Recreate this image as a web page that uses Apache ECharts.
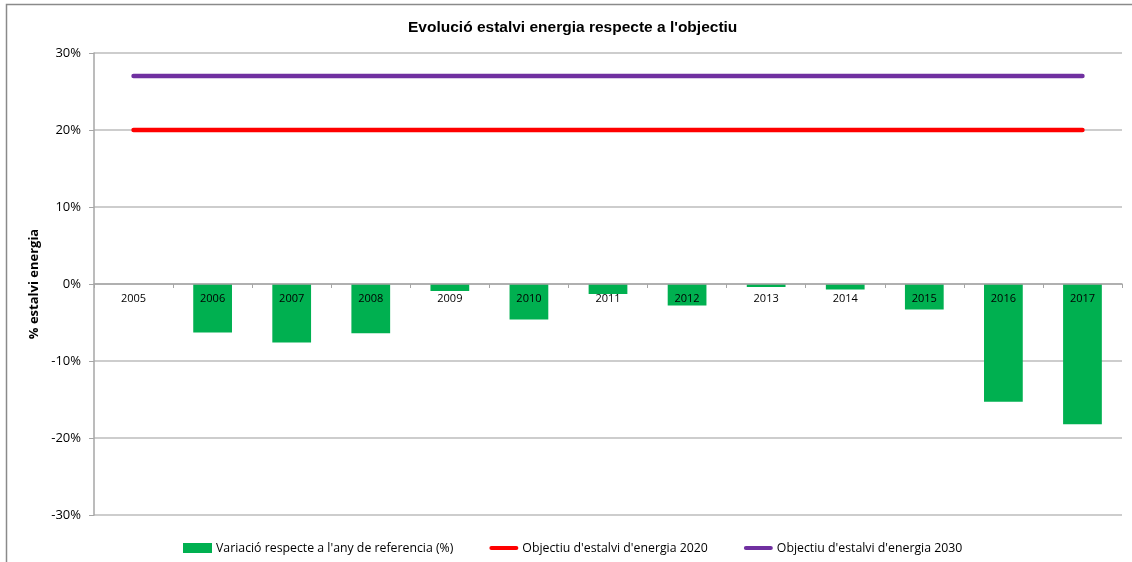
<!DOCTYPE html>
<html>
<head>
<meta charset="utf-8">
<script src="https://cdn.jsdelivr.net/npm/echarts@6/dist/echarts.min.js"></script>
<style>
  html, body { margin: 0; padding: 0; background: #fff; }
  #chart { width: 1132px; height: 562px; }
</style>
</head>
<body>
<div id="chart"></div>
<script>
  // anys
  var years = ['2005', '2006', '2007', '2008', '2009', '2010', '2011', '2012', '2013', '2014', '2015', '2016', '2017']
  // variació respecte a 2005 (%)
  var variacio = [0, -6.3, -7.6, -6.4, -0.9, -4.6, -1.3, -2.8, -0.4, -0.7, -3.3, -15.3, -18.2]
  var objectiu2020 = [20, 20, 20, 20, 20, 20, 20, 20, 20, 20, 20, 20, 20]
  var objectiu2030 = [27, 27, 27, 27, 27, 27, 27, 27, 27, 27, 27, 27, 27]
  var yTicks = [-30, -20, -10, 0, 10, 20, 30]

  var lineIcon = 'path://M2.5,0 H32.5 A2.5,2.5 0 0 1 32.5,5 H2.5 A2.5,2.5 0 0 1 2.5,0 Z'
  var font = 'Open Sans'

  var chart = echarts.init(document.getElementById('chart'))
  chart.setOption({
    backgroundColor: '#fff',
    animation: false,
    graphic: [{
      type: 'rect',
      shape: { x: 6.5, y: 4.5, width: 1140, height: 600 },
      style: { fill: 'none', stroke: '#8a8a8a', lineWidth: 1.5 },
      silent: true
    }],
    title: {
      text: "Evolució estalvi energia respecte a l'objectiu",
      left: 403,
      top: 15,
      textStyle: {
        fontFamily: 'Liberation Sans',
        fontSize: 15.5,
        fontWeight: 'bold',
        color: '#000'
      }
    },
    legend: {
      left: 178,
      top: 537,
      itemWidth: 29,
      itemHeight: 10,
      itemGap: 36,
      textStyle: { fontFamily: font, fontSize: 12.3, color: '#000', padding: [0, 0, 0, -1] },
      data: [
        { name: "Variació respecte a l'any de referencia (%)", icon: 'rect' },
        { name: "Objectiu d'estalvi d'energia 2020", icon: lineIcon },
        { name: "Objectiu d'estalvi d'energia 2030", icon: lineIcon }
      ]
    },
    grid: {
      left: 94,
      right: 10,
      top: 53,
      bottom: 47
    },
    xAxis: {
      type: 'category',
      data: years,
      boundaryGap: true,
      // l'eix es dibuixa a l'alçada del 0%
      offset: -231,
      axisLine: { onZero: false, lineStyle: { color: '#a6a6a6', width: 1.5 } },
      axisTick: { show: true, length: 4, lineStyle: { color: '#a6a6a6' } },
      axisLabel: { fontFamily: font, fontSize: 11, color: '#000', margin: 9 },
      z: 5
    },
    yAxis: {
      type: 'value',
      min: yTicks[0],
      max: yTicks[yTicks.length - 1],
      interval: 10,
      name: '% estalvi energia',
      nameLocation: 'middle',
      nameGap: 47,
      nameTextStyle: { fontFamily: font, fontSize: 13, fontWeight: 'bold', color: '#000' },
      axisLine: { show: true, lineStyle: { color: '#a6a6a6', width: 1.5 } },
      axisTick: { show: true, length: 5, lineStyle: { color: '#a6a6a6' } },
      axisLabel: { fontFamily: font, fontSize: 13, color: '#000', margin: 13, formatter: '{value}%' },
      splitLine: { lineStyle: { color: '#bdbdbd', width: 1.5 } }
    },
    series: [
      {
        name: "Variació respecte a l'any de referencia (%)",
        type: 'bar',
        data: variacio,
        barWidth: '49%',
        itemStyle: { color: '#00b050' },
        z: 2
      },
      {
        name: "Objectiu d'estalvi d'energia 2020",
        type: 'line',
        data: objectiu2020,
        showSymbol: false,
        symbol: 'none',
        itemStyle: { color: '#ff0000' },
        lineStyle: { color: '#ff0000', width: 4.5, cap: 'round' },
        z: 3
      },
      {
        name: "Objectiu d'estalvi d'energia 2030",
        type: 'line',
        data: objectiu2030,
        showSymbol: false,
        symbol: 'none',
        itemStyle: { color: '#7030a0' },
        lineStyle: { color: '#7030a0', width: 4.5, cap: 'round' },
        z: 3
      }
    ]
  })
</script>
</body>
</html>
